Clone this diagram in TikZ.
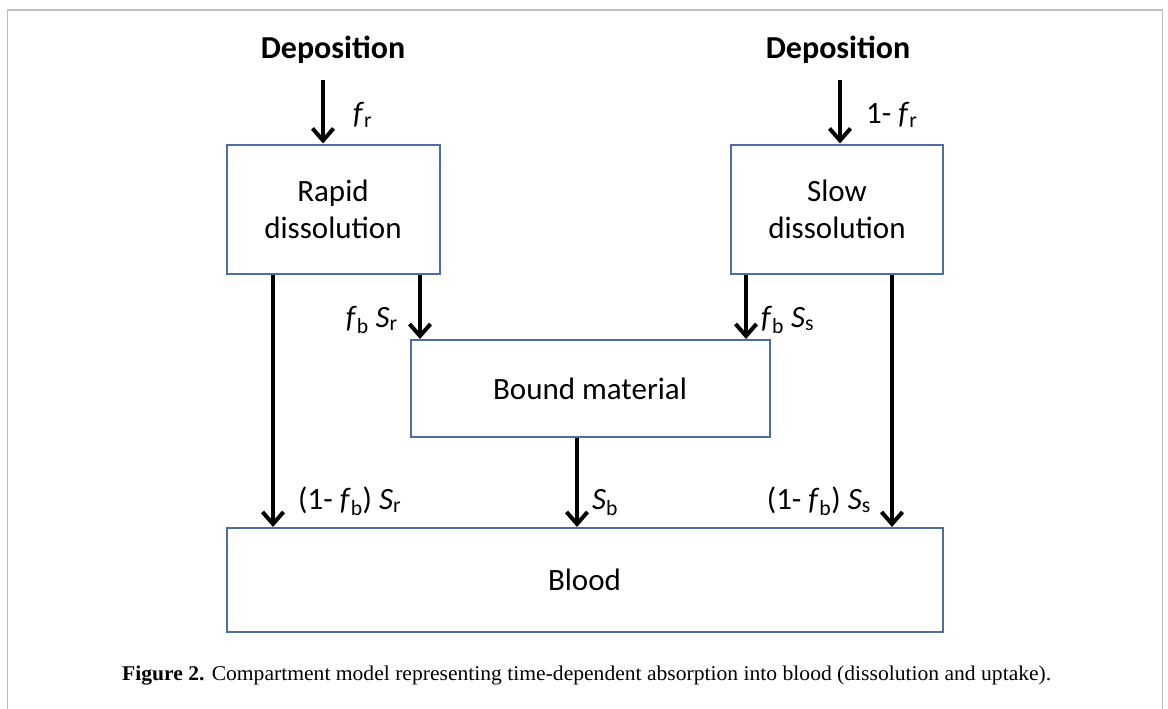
\documentclass[tikz,border=0pt]{standalone}
\usepackage{fontspec}
\setmainfont{Carlito}
\newfontfamily\capfont{Liberation Serif}
\usetikzlibrary{arrows.meta}
\definecolor{boxblue}{RGB}{76,110,164}
\definecolor{framegray}{RGB}{190,190,190}
\begin{document}
\begin{tikzpicture}[x=1pt,y=-1pt,
  box/.style={draw=boxblue, line width=2pt, rectangle, align=center,
    font=\fontsize{31}{37}\selectfont, inner sep=0pt},
  arr/.style={line width=4pt, -{Straight Barb[length=12pt,width=21pt]}},
  lbl/.style={font=\fontsize{31}{35}\selectfont, inner sep=0pt},
  dep/.style={font=\bfseries\fontsize{32}{36}\selectfont, inner sep=0pt}]
\useasboundingbox (0,0) rectangle (1168,709);
\fill[white] (0,0) rectangle (1168,709);
\draw[framegray, line width=1.5pt] (7.5,709) -- (7.5,10) -- (1162.5,10) -- (1162.5,709);

% boxes
\node[box, minimum width=213pt, minimum height=129pt] (rapid) at (333,209) {Rapid\\dissolution};
\node[box, minimum width=212pt, minimum height=129pt] (slow) at (837,209) {Slow\\dissolution};
\node[box, minimum width=359pt, minimum height=97pt] (bound) at (590,388.5) {Bound material};
\node[box, minimum width=716pt, minimum height=104pt] (blood) at (584.5,580) {Blood};

% deposition
\node[dep] (dep1) at (333,50) {Deposition};
\node[dep] (dep2) at (838,50) {Deposition};
\coordinate (t1) at (323,80);
\coordinate (t2) at (840,80);
\draw[arr] (t1) -- (t1 |- rapid.north);
\draw[arr] (t2) -- (t2 |- slow.north);

% internal arrows
\coordinate (r1) at (273,0);
\coordinate (r2) at (420,0);
\coordinate (s1) at (746,0);
\coordinate (s2) at (892,0);
\coordinate (b1) at (577,0);
\draw[arr] (r1 |- rapid.south) -- (r1 |- blood.north);
\draw[arr] (r2 |- rapid.south) -- (r2 |- bound.north);
\draw[arr] (s1 |- slow.south) -- (s1 |- bound.north);
\draw[arr] (s2 |- slow.south) -- (s2 |- blood.north);
\draw[arr] (b1 |- bound.south) -- (b1 |- blood.north);

% labels
\node[lbl, anchor=base west] (l1) at (353,124) {\textit{f}\textsubscript{r}};
\node[lbl, anchor=base west] (l2) at (866,124) {1- \textit{f}\textsubscript{r}};
\node[lbl, anchor=base east] (l3) at (398,327) {\textit{f}\textsubscript{b} \textit{S}\textsubscript{r}};
\node[lbl, anchor=base west] (l4) at (761,327) {\textit{f}\textsubscript{b} \textit{S}\textsubscript{s}};
\node[lbl, anchor=base west] (l5) at (298,509) {(1- \textit{f}\textsubscript{b}) \textit{S}\textsubscript{r}};
\node[lbl, anchor=base west] (l6) at (592,509) {\textit{S}\textsubscript{b}};
\node[lbl, anchor=base east] (l7) at (871,509) {(1- \textit{f}\textsubscript{b}) \textit{S}\textsubscript{s}};

% caption
\node[anchor=base west, inner sep=0pt, font=\capfont\fontsize{21}{24}\selectfont] (cap) at (122,680)
  {\resizebox{929pt}{\height}{\textbf{Figure 2.} Compartment model representing time-dependent absorption into blood (dissolution and uptake).}};
\end{tikzpicture}
\end{document}
